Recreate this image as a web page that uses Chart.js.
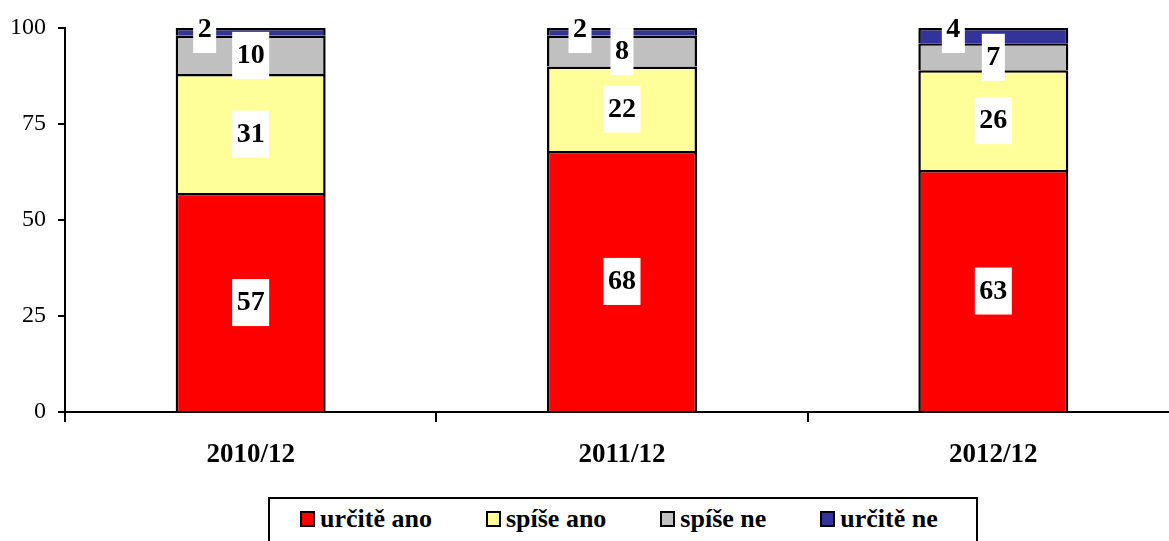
<!DOCTYPE html>
<html>
<head>
<meta charset="utf-8">
<script src="https://cdn.jsdelivr.net/npm/chart.js@4"></script>
<style>
    body { margin: 0; background: #fff; }
    #wrap { position: relative; width: 1169px; height: 541px; overflow: hidden; }
    #legend {
        position: absolute; left: 268px; top: 497px; width: 710px; height: 60px;
        box-sizing: border-box; border: 2px solid #000; background: #fff;
        font: bold 26px "Liberation Serif", "Times New Roman", serif;
        display: flex; align-items: flex-start; padding: 5px 0 0 30px; line-height: 30px;
        white-space: nowrap;
    }
    .item { display: flex; align-items: center; flex-shrink: 0; margin-right: 54px; }
    .swatch { width: 11px; height: 12px; border: 2px solid #000; margin-right: 5px; }
</style>
</head>
<body>
<div id="wrap">
    <!-- canvas is a bit wider than the window: the plot area runs past the right edge, as in the original -->
    <canvas id="myChart" width="1179" height="541"></canvas>
    <div id="legend"></div>
</div>
<script>
// Chart data
var categories = ['2010/12', '2011/12', '2012/12'];
var seriesNames = ['určitě ano', 'spíše ano', 'spíše ne', 'určitě ne'];
var urciteAno = [57, 68, 63];
var spiseAno = [31, 22, 26];
var spiseNe = [10, 8, 7];
var urciteNe = [2, 2, 4];
var seriesColors = ['#ff0000', '#ffff99', '#c0c0c0', '#333399'];

var serifFont = '"Liberation Serif", "Times New Roman", serif';

// White boxed value labels, Excel style
var boxLabels = {
    id: 'boxLabels',
    afterDatasetsDraw: function(chart, args, opts) {
        var ctx = chart.ctx;
        ctx.save();
        ctx.font = 'bold 28px ' + serifFont;
        ctx.textAlign = 'center';
        ctx.textBaseline = 'middle';
        var last = chart.data.datasets.length - 1;
        chart.data.datasets.forEach(function(ds, i) {
            var meta = chart.getDatasetMeta(i);
            meta.data.forEach(function(el, j) {
                var txt = String(ds.data[j]);
                var x = el.x;
                var y = (el.y + el.base) / 2;
                if (i === last) {
                    x = el.x + opts.topOffsets[j];
                    y = el.y + 1;
                }
                var w = ctx.measureText(txt).width + 9;
                ctx.fillStyle = '#fff';
                ctx.fillRect(x - w / 2, y - 23, w, 47);
                ctx.fillStyle = '#000';
                ctx.fillText(txt, x, y + 1);
            });
        });
        ctx.restore();
    }
};

var dataLists = [urciteAno, spiseAno, spiseNe, urciteNe];
var datasets = [];
for (let i = 0; i < seriesNames.length; i++) {
    datasets.push({
        label: seriesNames[i],
        data: dataLists[i],
        backgroundColor: seriesColors[i],
        borderColor: '#000',
        borderWidth: 2.5,
        categoryPercentage: 1,
        barPercentage: 0.404
    });
}

var ctx = document.getElementById('myChart').getContext('2d');
new Chart(ctx, {
    type: 'bar',
    data: {
        labels: categories,
        datasets: datasets
    },
    options: {
        responsive: false,
        animation: false,
        layout: {
            padding: { top: 28, right: 0, left: 0, bottom: 0 }
        },
        scales: {
            x: {
                stacked: true,
                afterFit: function(scale) { scale.height = 129; },
                grid: {
                    offset: true,
                    drawOnChartArea: false,
                    tickLength: 10,
                    color: '#000',
                    lineWidth: 2
                },
                border: { color: '#000', width: 2 },
                ticks: {
                    color: '#000',
                    padding: 17,
                    font: { family: serifFont, size: 27, weight: 'bold' }
                }
            },
            y: {
                stacked: true,
                min: 0,
                max: 100,
                afterFit: function(scale) { scale.width = 65; },
                grid: {
                    drawOnChartArea: false,
                    tickLength: 7,
                    color: '#000',
                    lineWidth: 2
                },
                border: { color: '#000', width: 2 },
                ticks: {
                    stepSize: 25,
                    color: '#000',
                    padding: 12,
                    font: { family: serifFont, size: 24 }
                }
            }
        },
        plugins: {
            legend: { display: false },
            tooltip: { enabled: false },
            boxLabels: { topOffsets: [-46, -42, -40] }
        }
    },
    plugins: [boxLabels]
});

// Legend in a bordered box below the chart
var legend = document.getElementById('legend');
for (let i = 0; i < seriesNames.length; i++) {
    var item = document.createElement('div');
    item.className = 'item';
    item.innerHTML = '<span class="swatch" style="background:' + seriesColors[i] + '"></span>' + seriesNames[i];
    legend.appendChild(item);
}
</script>
</body>
</html>
